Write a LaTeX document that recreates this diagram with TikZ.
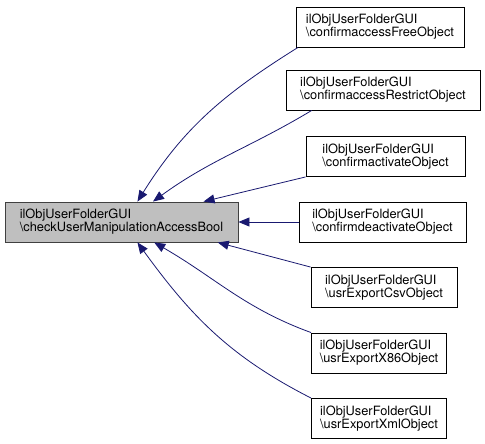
\documentclass[tikz,border=0pt]{standalone}
\usepackage{fontspec}
\setmainfont{TeX Gyre Heros}
\usetikzlibrary{arrows.meta}

\definecolor{edgeblue}{HTML}{191970}
\definecolor{mainfill}{HTML}{BFBFBF}

\begin{document}
\begin{tikzpicture}[
    x=1pt, y=1pt,
    func/.style={rectangle, draw=black, line width=0.9pt, align=left, inner sep=0pt, minimum height=40pt, font=\fontsize{12.8}{13}\selectfont},
    target/.style={func, fill=mainfill, draw=black!75},
    call/.style={draw=edgeblue, line width=0.8pt, -{Triangle[length=11pt,width=9pt]}}
]
    \useasboundingbox (0,0) rectangle (485,-444);

    % Funcao chamada
    \node[target, minimum width=233pt] (main) at (121.5,-222) {ilObjUserFolderGUI\\\textbackslash checkUserManipulationAccessBool};

    % Chamadores
    \node[func, minimum width=168pt] (free) at (380,-27) {ilObjUserFolderGUI\\\textbackslash confirmaccessFreeObject};
    \node[func, minimum width=194pt] (restrict) at (383,-90) {ilObjUserFolderGUI\\\textbackslash confirmaccessRestrictObject};
    \node[func, minimum width=159pt] (activate) at (385.5,-156.5) {ilObjUserFolderGUI\\\textbackslash confirmactivateObject};
    \node[func, minimum width=167pt] (deactivate) at (382.5,-222) {ilObjUserFolderGUI\\\textbackslash confirmdeactivateObject};
    \node[func, minimum width=146pt] (csv) at (384,-287.5) {ilObjUserFolderGUI\\\textbackslash usrExportCsvObject};
    \node[func, minimum width=135pt] (x86) at (379,-353) {ilObjUserFolderGUI\\\textbackslash usrExportX86Object};
    \node[func, minimum width=135pt] (xml) at (379,-418.5) {ilObjUserFolderGUI\\\textbackslash usrExportXmlObject};

    % Chamadas
    \draw[call] (free.194) to[out=212, in=58] (main.52);
    \draw[call] (restrict.196) to[out=211, in=36] (main.33);
    \draw[call] (activate.south west) -- (main.14);
    \draw[call] (deactivate.west) -- (main.east);
    \draw[call] (csv.north west) -- (main.-12);
    \draw[call] (x86.north west) to[out=160, in=-30] (main.-32);
    \draw[call] (xml.north west) to[out=153, in=-54] (main.-52);

\end{tikzpicture}
\end{document}
